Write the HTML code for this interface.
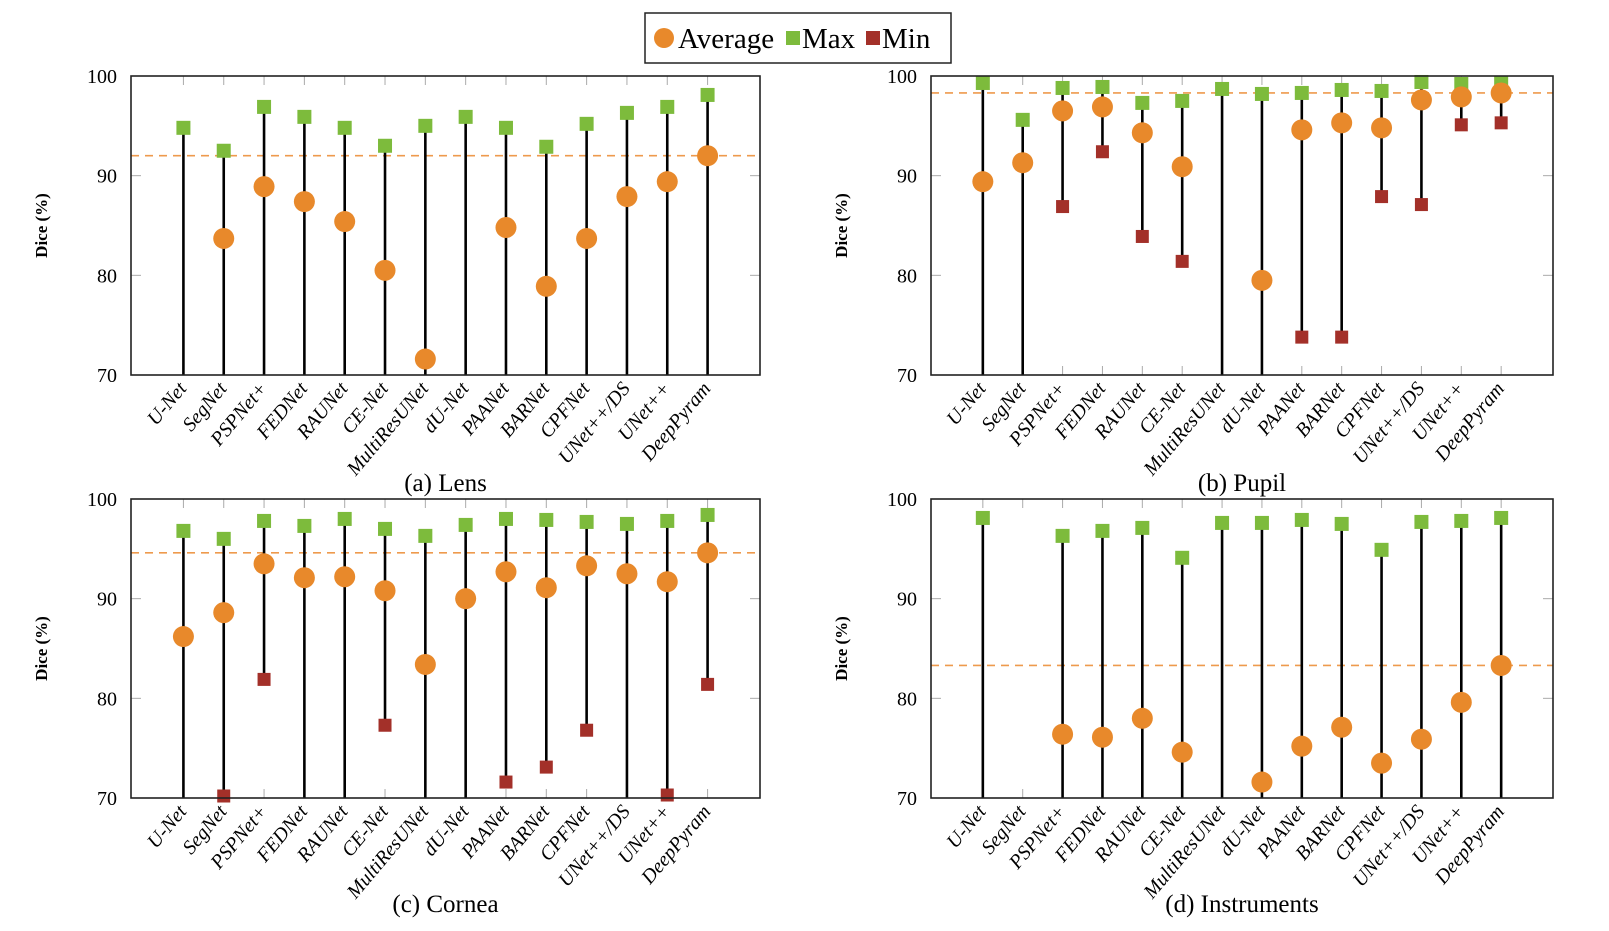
<!DOCTYPE html>
<html><head><meta charset="utf-8"><style>
html,body{margin:0;padding:0;background:#fff;}
svg{display:block;font-family:"Liberation Serif",serif;}
</style></head><body>
<svg id="fig" width="1609" height="931" viewBox="0 0 1609 931">
<g>
<rect x="645" y="13" width="306" height="50" fill="#fff" stroke="#222" stroke-width="1.5"/>
<g><ellipse cx="664" cy="38" rx="10" ry="10" fill="#E8892B"/><text x="678" y="48" font-size="29">Average</text></g>
<g><rect x="786" y="31" width="14" height="14" fill="#7DBB3C"/><text x="802" y="48" font-size="29">Max</text></g>
<g><rect x="866" y="31" width="14" height="14" fill="#A33029"/><text x="882" y="48" font-size="29">Min</text></g>
</g>
</svg>
<script>
const categories=["U-Net","SegNet","PSPNet+","FEDNet","RAUNet","CE-Net","MultiResUNet","dU-Net","PAANet","BARNet","CPFNet","UNet++/DS","UNet++","DeepPyram"];
const yTicks=[70,80,90,100];
const lensMax=[94.8,92.5,96.9,95.9,94.8,93.0,95.0,95.9,94.8,92.9,95.2,96.3,96.9,98.1];
const lensAvg=[null,83.7,88.9,87.4,85.4,80.5,71.6,null,84.8,78.9,83.7,87.9,89.4,92.0];
const lensMin=[null,null,null,null,null,null,null,null,null,null,null,null,null,null];
const pupilMax=[99.3,95.6,98.8,98.9,97.3,97.5,98.7,98.2,98.3,98.6,98.5,99.4,99.2,99.3];
const pupilAvg=[89.4,91.3,96.5,96.9,94.3,90.9,null,79.5,94.6,95.3,94.8,97.6,97.9,98.3];
const pupilMin=[null,null,86.9,92.4,83.9,81.4,null,null,73.8,73.8,87.9,87.1,95.1,95.3];
const corneaMax=[96.8,96.0,97.8,97.3,98.0,97.0,96.3,97.4,98.0,97.9,97.7,97.5,97.8,98.4];
const corneaAvg=[86.2,88.6,93.5,92.1,92.2,90.8,83.4,90.0,92.7,91.1,93.3,92.5,91.7,94.6];
const corneaMin=[null,70.2,81.9,null,null,77.3,null,null,71.6,73.1,76.8,null,70.3,81.4];
const instMax=[98.1,null,96.3,96.8,97.1,94.1,97.6,97.6,97.9,97.5,94.9,97.7,97.8,98.1];
const instAvg=[null,null,76.4,76.1,78.0,74.6,null,71.6,75.2,77.1,73.5,75.9,79.6,83.3];
const instMin=[null,null,null,null,null,null,null,null,null,null,null,null,null,null];

const NS="http://www.w3.org/2000/svg";
const svg=document.getElementById("fig");
function mk(tag,attrs,parent){const e=document.createElementNS(NS,tag);for(const k in attrs)e.setAttribute(k,attrs[k]);(parent||svg).appendChild(e);return e;}

function panel(key,caption,L,T,R,B,maxA,avgA,minA,capY){
  const g=mk("g",{});
  
  
  const ymin=70,ymax=100;
  const y=v=>B-(v-ymin)/(ymax-ymin)*(B-T);
  const step=(R-L)/(categories.length-1+2.6);
  const x=i=>L+1.3*step+i*step;
  categories.forEach((c,i)=>{
    mk("line",{x1:x(i),x2:x(i),y1:T,y2:T+9,stroke:"#aaa","stroke-width":1},g);
    mk("line",{x1:x(i),x2:x(i),y1:B,y2:B-9,stroke:"#aaa","stroke-width":1},g);
  });
  yTicks.forEach(v=>{
    if(v>ymin&&v<ymax){
      mk("line",{x1:L,x2:L+10,y1:y(v),y2:y(v),stroke:"#aaa","stroke-width":1},g);
      mk("line",{x1:R,x2:R-10,y1:y(v),y2:y(v),stroke:"#aaa","stroke-width":1},g);
    }
    const t=mk("text",{x:L-14,y:y(v)+7,"text-anchor":"end","font-size":20},g);
    t.textContent=v;
    
    
  });
  const ref=avgA[avgA.length-1];
  const dl=mk("line",{x1:L,x2:R,y1:y(ref),y2:y(ref),stroke:"#EE9A4D","stroke-width":1.6,"stroke-dasharray":"8,6"},g);
  
  
  categories.forEach((c,i)=>{
    if(maxA[i]==null)return;
    let lo=70;
    if(minA[i]!=null)lo=minA[i];
    const s=mk("line",{x1:x(i),x2:x(i),y1:y(Math.max(lo,70)),y2:y(maxA[i]),stroke:"#000","stroke-width":2.6},g);
    
    
  });
  categories.forEach((c,i)=>{
    if(maxA[i]!=null){
      const m=mk("rect",{x:x(i)-7,y:y(maxA[i])-7,width:14,height:14,fill:"#7DBB3C"},g);
      
      
    }
    if(minA[i]!=null){
      const m=mk("rect",{x:x(i)-6.5,y:y(minA[i])-6.5,width:13,height:13,fill:"#A33029"},g);
      
      
    }
    if(avgA[i]!=null){
      const m=mk("ellipse",{cx:x(i),cy:y(avgA[i]),rx:10.5,ry:10.5,fill:"#E8892B"},g);
      
      
    }
    const t=mk("text",{x:x(i)+4,y:B+14,"text-anchor":"end","font-size":20,"font-style":"italic",transform:`rotate(-50 ${x(i)+4} ${B+14})`},g);
    t.textContent=c;
    
    
  });
  const fr=mk("rect",{x:L,y:T,width:R-L,height:B-T,fill:"none",stroke:"#222","stroke-width":1.6},g);
  
  
  const yl=mk("text",{x:0,y:0,"text-anchor":"middle","font-size":17,"font-weight":"bold",transform:`translate(${L-84},${(T+B)/2}) rotate(-90)`},g);
  yl.textContent="Dice (%)";
  
  
  const cp=mk("text",{x:(L+R)/2,y:capY,"text-anchor":"middle","font-size":25},g);
  cp.textContent=caption;
  
  
}
panel("lens","(a) Lens",131,76,760,375,lensMax,lensAvg,lensMin,491);
panel("pupil","(b) Pupil",931,76,1553,375,pupilMax,pupilAvg,pupilMin,491);
panel("cornea","(c) Cornea",131,499,760,798,corneaMax,corneaAvg,corneaMin,912);
panel("instruments","(d) Instruments",931,499,1553,798,instMax,instAvg,instMin,912);
</script>
</body></html>
